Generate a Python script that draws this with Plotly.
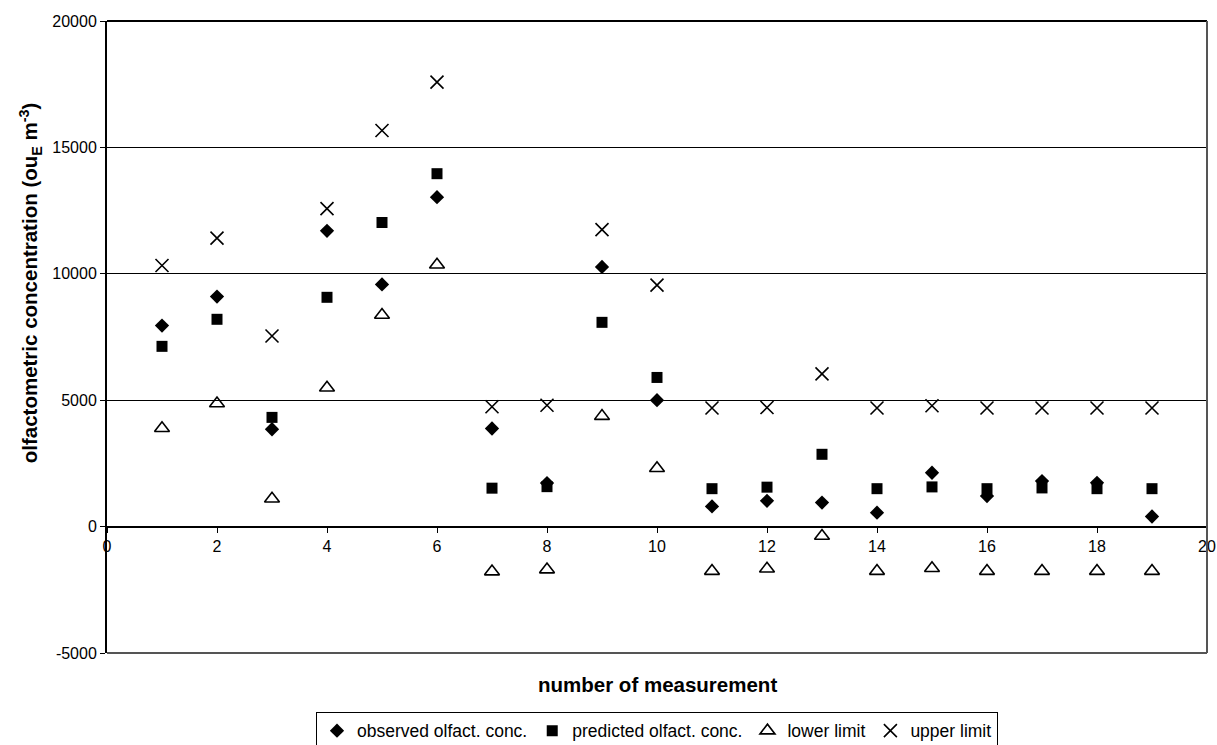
import plotly.graph_objects as go

measurement = list(range(1, 20))
observed = [7950, 9100, 3850, 11700, 9580, 13030, 3880, 1720, 10270, 5000,
            800, 1020, 950, 550, 2130, 1210, 1800, 1730, 400]
predicted = [7130, 8200, 4320, 9070, 12030, 13960, 1520, 1580, 8080, 5900,
             1500, 1560, 2860, 1500, 1570, 1500, 1530, 1500, 1500]
lower = [3890, 4870, 1100, 5490, 8370, 10360, -1780, -1700, 4370, 2310,
         -1760, -1670, -370, -1760, -1650, -1760, -1760, -1760, -1760]
upper = [10330, 11410, 7540, 12580, 15670, 17580, 4740, 4800, 11750, 9550,
         4690, 4710, 6040, 4690, 4780, 4690, 4690, 4690, 4690]

y_ticks = [-5000, 0, 5000, 10000, 15000, 20000]
y_tick_text = ["-5000", "0", "5000", "10000", "15000", "20000"]
x_ticks = [0, 2, 4, 6, 8, 10, 12, 14, 16, 18, 20]

FONT = "Liberation Sans, Arial, sans-serif"

fig = go.Figure()
fig.add_trace(go.Scatter(x=measurement, y=observed, mode="markers",
                         name="observed olfact. conc.",
                         marker=dict(symbol="diamond", size=11, color="black")))
fig.add_trace(go.Scatter(x=measurement, y=predicted, mode="markers",
                         name="predicted olfact. conc.",
                         marker=dict(symbol="square", size=11, color="black")))
fig.add_trace(go.Scatter(x=measurement, y=lower, mode="markers",
                         name="lower limit",
                         marker=dict(symbol="triangle-up-open", size=13, color="black",
                                     line=dict(width=1.6, color="black"))))
fig.add_trace(go.Scatter(x=measurement, y=upper, mode="markers",
                         name="upper limit",
                         marker=dict(symbol="x-thin-open", size=13, color="black",
                                     line=dict(width=1.6, color="black"))))

fig.update_layout(
    width=1217, height=745,
    margin=dict(l=107, r=10, t=21, b=92, autoexpand=False),
    paper_bgcolor="white", plot_bgcolor="white",
    font=dict(family=FONT, size=16, color="black"),
    showlegend=True,
    legend=dict(orientation="h", x=0.5, xanchor="center", y=-0.093, yanchor="top",
                bordercolor="black", borderwidth=1, font=dict(size=17.5),
                itemwidth=30, tracegroupgap=0),
    xaxis=dict(range=[0, 20], tickvals=x_ticks, anchor="free", position=0.2,
               showline=True, linecolor="black", linewidth=1,
               ticks="outside", ticklen=5, tickcolor="black",
               showgrid=False, zeroline=False, tickfont=dict(size=16)),
    yaxis=dict(range=[-5000, 20000], tickvals=y_ticks, ticktext=y_tick_text,
               showline=True, linecolor="black", linewidth=2,
               ticks="outside", ticklen=5, tickcolor="black",
               showgrid=True, gridcolor="black", gridwidth=1, zeroline=False,
               tickfont=dict(size=16)),
    annotations=[
        dict(text="<b>number of measurement</b>", xref="paper", yref="paper",
             x=0.5, y=-0.0506, xanchor="center", yanchor="middle",
             showarrow=False, font=dict(size=20.5)),
        dict(text="<b>olfactometric concentration (ou<sub>E</sub> m<sup>-3</sup>)</b>",
             xref="paper", yref="paper", x=-0.07, y=0.585,
             xanchor="center", yanchor="middle", textangle=-90,
             showarrow=False, font=dict(size=20.5)),
    ],
    shapes=[
        dict(type="line", xref="paper", yref="paper", x0=0, x1=1, y0=1, y1=1,
             line=dict(color="black", width=2)),
        dict(type="line", xref="paper", yref="paper", x0=1, x1=1, y0=0, y1=1,
             line=dict(color="#555555", width=2)),
        dict(type="line", xref="paper", yref="paper", x0=0, x1=1, y0=0, y1=0,
             line=dict(color="#555555", width=2)),
    ],
)

fig.write_html("out.html")
